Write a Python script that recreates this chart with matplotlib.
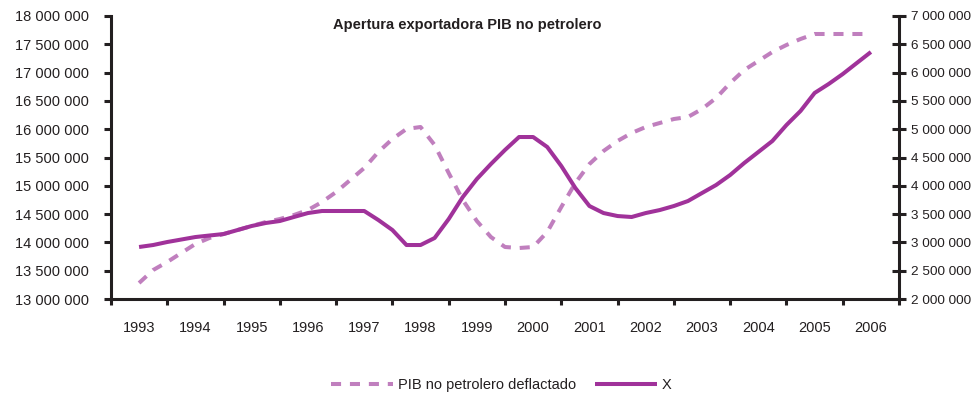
import numpy as np
import matplotlib
matplotlib.use("Agg")
import matplotlib.pyplot as plt
from matplotlib.ticker import FuncFormatter, FixedLocator

plt.rcParams["font.family"] = ["Liberation Sans", "DejaVu Sans"]

years = list(range(1993, 2007))

# quarterly series, 1993 to 2006
pib_no_petrolero = [
    13283000, 13512000, 13654000, 13813000, 13972000, 14078000, 14148000,
    14219000, 14290000, 14360000, 14413000, 14484000, 14572000, 14714000,
    14890000, 15102000, 15315000, 15597000, 15827000, 16004000, 16039000,
    15721000, 15226000, 14749000, 14378000, 14095000, 13919000, 13901000,
    13919000, 14184000, 14625000, 15050000, 15385000, 15615000, 15792000,
    15933000, 16039000, 16110000, 16180000, 16216000, 16357000, 16551000,
    16816000, 17046000, 17205000, 17364000, 17488000, 17594000, 17682000,
    17682000, 17682000, 17682000, 17682000,
]
exportaciones = [
    2919000, 2954000, 3007000, 3051000, 3095000, 3122000, 3148000,
    3219000, 3290000, 3343000, 3378000, 3449000, 3519000, 3555000,
    3555000, 3555000, 3555000, 3396000, 3219000, 2954000, 2954000,
    3078000, 3413000, 3802000, 4120000, 4385000, 4633000, 4862000,
    4862000, 4686000, 4350000, 3961000, 3643000, 3519000, 3466000,
    3449000, 3519000, 3572000, 3643000, 3731000, 3873000, 4014000,
    4191000, 4403000, 4597000, 4792000, 5074000, 5322000, 5640000,
    5799000, 5975000, 6170000, 6364000,
]

t = 1993 + np.arange(len(exportaciones)) / 4

ink = "#231f20"
col_pib = "#c07fbe"
col_x = "#a0329a"

fig = plt.figure(figsize=(9.73, 3.98), dpi=100)
ax = fig.add_axes([0.114, 0.2487, 0.81, 0.7111])
ax2 = ax.twinx()

l1, = ax.plot(t, pib_no_petrolero, color=col_pib, lw=2.9, dashes=(2.5, 2.2),
              dash_capstyle="butt", label="PIB no petrolero deflactado")
l2, = ax2.plot(t, exportaciones, color=col_x, lw=2.9, solid_capstyle="butt",
               label="X")

ax.set_xlim(1992.5, 2006.5)
ax.set_ylim(13000000, 18000000)
ax2.set_ylim(2000000, 7000000)
ax.set_yticks(np.arange(13000000, 18000001, 500000))
ax2.set_yticks(np.arange(2000000, 7000001, 500000))

fmt = FuncFormatter(lambda v, p: f"{v:,.0f}".replace(",", " "))
ax.yaxis.set_major_formatter(fmt)
ax2.yaxis.set_major_formatter(fmt)

# tick marks between years, labels centred on each year
ax.xaxis.set_major_locator(FixedLocator(np.arange(1992.5, 2007, 1)))
ax.xaxis.set_minor_locator(FixedLocator(years))
ax.set_xticklabels([])
ax.set_xticklabels([str(y) for y in years], minor=True)

for a in (ax, ax2):
    for s in a.spines.values():
        s.set_visible(False)
ax.spines["left"].set_visible(True)
ax.spines["bottom"].set_visible(True)
ax2.spines["right"].set_visible(True)
for s in (ax.spines["left"], ax.spines["bottom"], ax2.spines["right"]):
    s.set_color(ink)
    s.set_linewidth(2.2)

fs = 10.5
ax.tick_params(axis="y", direction="out", length=5, width=2.2, color=ink,
               labelsize=fs, labelcolor=ink, pad=11)
ax.tick_params(axis="x", which="major", direction="out", length=4, width=2.2,
               color=ink)
ax.tick_params(axis="x", which="minor", length=0, labelsize=fs,
               labelcolor=ink, pad=16)
ax2.tick_params(axis="y", direction="inout", length=9.5, width=2.2, color=ink,
                labelsize=9.7, labelcolor=ink, pad=3.5)

fig.text(0.48, 0.937, "Apertura exportadora PIB no petrolero", ha="center",
         va="center", fontsize=10.5, fontweight="bold", color=ink)

fig.legend(handles=[l1, l2], loc="center", bbox_to_anchor=(0.515, 0.033),
           ncol=2, frameon=False, fontsize=fs, handlelength=4.3,
           handletextpad=0.3, columnspacing=1.3, labelcolor=ink)

fig.savefig("out.png", dpi=100)
